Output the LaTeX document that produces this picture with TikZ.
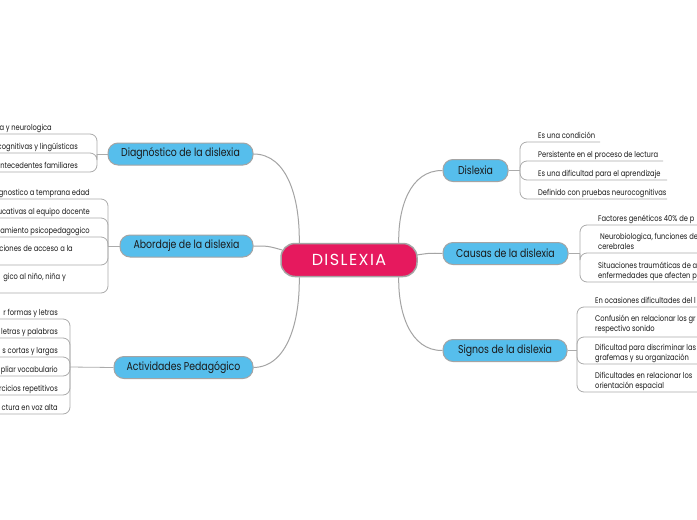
\documentclass[tikz,border=0pt]{standalone}
\usepackage{fontspec}
\setmainfont{Poppins}[FakeStretch=0.82]
\newfontfamily\capsfont{Poppins}[LetterSpace=9]
\definecolor{mainblue}{HTML}{56BEEC}
\definecolor{centerpink}{HTML}{E6195E}
\definecolor{edgegray}{HTML}{A4A4A4}
\definecolor{linegray}{HTML}{ABABAB}
\definecolor{txt}{HTML}{1A1A1A}
\begin{document}
\begin{tikzpicture}[x=1pt,y=-1pt,
  mainnode/.style={draw=edgegray, line width=1pt, fill=mainblue, rounded corners=10pt,
    minimum height=22pt, inner sep=0pt, text=txt, font=\fontsize{11.4}{13}\selectfont},
  centralnode/.style={draw=edgegray, line width=1.5pt, fill=centerpink, rounded corners=14pt,
    minimum height=33pt, inner sep=0pt, text=white, font=\capsfont\fontsize{16}{18}\selectfont},
  conn/.style={draw=edgegray, line width=1pt},
  sub/.style={draw=linegray, line width=0.8pt},
  childtxt/.style={inner sep=0pt, text=txt, font=\fontsize{8.2}{10}\selectfont}]
\useasboundingbox (0,0) rectangle (697,520);
\clip (0,0) rectangle (697,520);
\fill[white] (0,0) rectangle (697,520);

% main nodes
\node[centralnode, minimum width=136pt] (c) at (349,260) {DISLEXIA};
\node[mainnode, minimum width=145pt] (diag) at (180.5,154) {Diagnóstico de la dislexia};
\node[mainnode, minimum width=133pt] (abor) at (186.5,246) {Abordaje de la dislexia};
\node[mainnode, minimum width=139pt] (acti) at (183.5,367.5) {Actividades Pedagógico};
\node[mainnode, minimum width=65pt] (disl) at (475.5,170.5) {Dislexia};
\node[mainnode, minimum width=125pt] (caus) at (505.5,253.5) {Causas de la dislexia};
\node[mainnode, minimum width=124pt] (sign) at (505,350.5) {Signos de la dislexia};

% main connectors
\draw[conn] (diag.east) .. controls (288,154) and (300,200) .. ([xshift=19pt]c.north west);
\draw[conn] (abor.east) .. controls (268,246) .. ([shift={(2,-10)}]c.west);
\draw[conn] (acti.east) .. controls (288,367) and (300,320) .. ([xshift=19pt]c.south west);
\draw[conn] (disl.west) .. controls (410,170) and (398,208) .. ([xshift=-19pt]c.north east);
\draw[conn] (caus.west) .. controls (430,253) .. ([shift={(-1,-5)}]c.east);
\draw[conn] (sign.west) .. controls (410,351) and (398,312) .. ([xshift=-19pt]c.south east);

% Diagnostico children
\coordinate (bD) at (97,154);
\draw[sub] (diag.west) -- (bD);
\foreach \i/\ly in {1/134,2/153,3/172} {
  \coordinate (dE\i) at (-5,\ly);
  \draw[sub, rounded corners=7pt] (bD) |- (dE\i);
}
\node[childtxt, anchor=base east] (dT1) at (52,130.5) {a y neurologica};
\node[childtxt, anchor=base east] (dT2) at (78,149.5) {cognitivas y lingüísticas};
\node[childtxt, anchor=base east] (dT3) at (78,168.5) {ntecedentes familiares};

% Abordaje children
\coordinate (bA) at (108,246);
\draw[sub] (abor.west) -- (bA);
\foreach \i/\ly in {1/199,2/218,3/237,4/265,5/293} {
  \coordinate (aE\i) at (-5,\ly);
  \draw[sub, rounded corners=7pt] (bA) |- (aE\i);
}
\node[childtxt, anchor=base east] (aT1) at (90,195.5) {gnostico a temprana edad};
\node[childtxt, anchor=base east] (aT2) at (90,214.5) {ucativas al equipo docente};
\node[childtxt, anchor=base east] (aT3) at (90,233.5) {tamiento psicopedagogico};
\node[childtxt, anchor=base east] (aT4) at (73,251.5) {ciones de acceso a la};
\node[childtxt, anchor=base east] (aT5) at (66,279.5) {gico al niño, niña y};

% Actividades children
\coordinate (bP) at (70,367);
\draw[sub] (acti.west) -- (bP);
\foreach \i/\ly in {1/319,2/338,3/357,4/376,5/395,6/414} {
  \coordinate (pE\i) at (-5,\ly);
  \draw[sub, rounded corners=7pt] (bP) |- (pE\i);
}
\node[childtxt, anchor=base east] (pT1) at (58,315.5) {r formas y letras};
\node[childtxt, anchor=base east] (pT2) at (58,334.5) {letras y palabras};
\node[childtxt, anchor=base east] (pT3) at (58,353.5) {s cortas y largas};
\node[childtxt, anchor=base east] (pT4) at (58,372.5) {pliar vocabulario};
\node[childtxt, anchor=base east] (pT5) at (58,391.5) {rcicios repetitivos};
\node[childtxt, anchor=base east] (pT6) at (58,410.5) {ctura en voz alta};

% Dislexia children
\coordinate (bL) at (520,170.5);
\draw[sub] (disl.east) -- (bL);
\foreach \i/\ly/\xe in {1/142/600,2/161/663,3/180/667,4/199/667} {
  \coordinate (lE\i) at (\xe,\ly);
  \draw[sub, rounded corners=7pt] (bL) |- (lE\i);
}
\node[childtxt, anchor=base west] (lT1) at (538,138.5) {Es una condición};
\node[childtxt, anchor=base west] (lT2) at (538,157.5) {Persistente en el proceso de lectura};
\node[childtxt, anchor=base west] (lT3) at (538,176.5) {Es una dificultad para el aprendizaje};
\node[childtxt, anchor=base west] (lT4) at (538,195.5) {Definido con pruebas neurocognitivas};

% Causas children
\coordinate (bC) at (580,253.5);
\draw[sub] (caus.east) -- (bC);
\foreach \i/\ly in {1/225,2/253,3/282} {
  \coordinate (cE\i) at (705,\ly);
  \draw[sub, rounded corners=7pt] (bC) |- (cE\i);
}
\node[childtxt, anchor=base west] (cT1) at (598,221.5) {Factores genéticos 40\% de p};
\node[childtxt, anchor=base west] (cT2) at (600,239.5) {Neurobiologica, funciones de};
\node[childtxt, anchor=base west] (cT2b) at (598,249.5) {cerebrales};
\node[childtxt, anchor=base west] (cT3) at (598,268.5) {Situaciones traumáticas de a};
\node[childtxt, anchor=base west] (cT3b) at (598,278.5) {enfermedades que afecten p};

% Signos children
\coordinate (bS) at (577,350.5);
\draw[sub] (sign.east) -- (bS);
\foreach \i/\ly in {1/307,2/337,3/364,4/392} {
  \coordinate (sE\i) at (705,\ly);
  \draw[sub, rounded corners=7pt] (bS) |- (sE\i);
}
\node[childtxt, anchor=base west] (sT1) at (595,303.5) {En ocasiones dificultades del l};
\node[childtxt, anchor=base west] (sT2) at (595,321.5) {Confusión en relacionar los gr};
\node[childtxt, anchor=base west] (sT2b) at (595,331.5) {respectivo sonido};
\node[childtxt, anchor=base west] (sT3) at (595,350.5) {Dificultad para discriminar las};
\node[childtxt, anchor=base west] (sT3b) at (595,360.5) {grafemas y su organización};
\node[childtxt, anchor=base west] (sT4) at (595,378.5) {Dificultades en relacionar los};
\node[childtxt, anchor=base west] (sT4b) at (595,388.5) {orientación espacial};
\end{tikzpicture}
\end{document}
